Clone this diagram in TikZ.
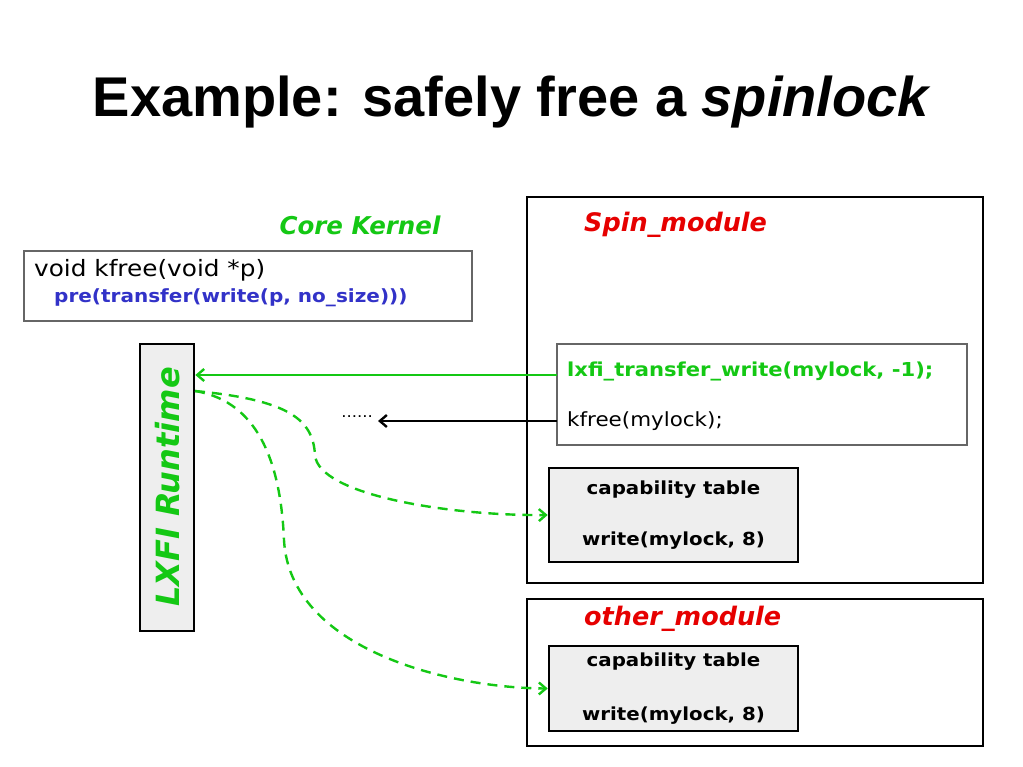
\documentclass[tikz,border=0pt]{standalone}
\usepackage{fontspec}
\setmainfont{Liberation Sans}
\newfontfamily\vfont{DejaVu Sans}
\newfontfamily\cfont[FakeStretch=1.1]{DejaVu Sans}
\usetikzlibrary{arrows.meta}
\definecolor{lgreen}{RGB}{20,200,20}
\definecolor{lred}{RGB}{230,0,0}
\definecolor{lblue}{RGB}{50,50,200}
\definecolor{lgray}{RGB}{238,238,238}
\tikzset{
  modbox/.style={draw=black, line width=2.8pt},
  codebox/.style={draw=black!60, line width=1.2pt, fill=white},
  captab/.style={draw=black, line width=2.6pt, fill=lgray},
  modlabel/.style={text=lred, font=\vfont\bfseries\itshape\fontsize{25.5}{30}\selectfont, anchor=west, inner sep=0pt},
  ctext/.style={font=\cfont\fontsize{19.5}{22}\selectfont, anchor=west, inner sep=0pt},
  cbold/.style={font=\cfont\bfseries\fontsize{18}{22}\selectfont, inner sep=0pt},
  garrow/.style={draw=lgreen, line width=2.4pt, -{Straight Barb[length=7pt,width=12pt]}},
  gdash/.style={draw=lgreen, line width=2.4pt, dash pattern=on 10pt off 7pt, -{Straight Barb[length=7pt,width=12pt]}},
  barrow/.style={draw=black, line width=2.4pt, -{Straight Barb[length=7pt,width=12pt]}}
}
\begin{document}
\begin{tikzpicture}[x=1pt,y=-1pt]
\useasboundingbox[fill=white] (0,0) rectangle (1023,767);
\node[font=\bfseries\fontsize{56}{64}\selectfont, inner sep=0pt] (title) at (512,102) {Example: safely free a \textit{spinlock}};
% core kernel
\node[text=lgreen, font=\vfont\bfseries\itshape\fontsize{24.5}{28}\selectfont, inner sep=0pt] (core) at (360,225) {Core Kernel};
\draw[codebox] (24,251) rectangle (472,321);
\node[ctext, font=\cfont\fontsize{22.5}{26}\selectfont] (kf1) at (34,270) {void kfree(void *p)};
\node[ctext, text=lblue, font=\cfont\bfseries\fontsize{18.2}{22}\selectfont] (kf2) at (54,298) {pre(transfer(write(p, no\_size)))};
% LXFI runtime
\node[draw=black, line width=2.6pt, fill=lgray, minimum width=54pt, minimum height=287pt, inner sep=0pt] (rt) at (167,487.5) {};
\node[rotate=90, text=lgreen, font=\vfont\bfseries\itshape\fontsize{32}{36}\selectfont, inner sep=0pt] (rtl) at (168,487) {LXFI Runtime};
% spin module
\draw[modbox] (527,197) rectangle (983,583);
\node[modlabel] (spinl) at (584,225) {Spin\_module};
\draw[codebox] (557,344) rectangle (967,445);
\node[ctext, text=lgreen, font=\cfont\bfseries\fontsize{19.2}{22}\selectfont] (xfer) at (567,371) {lxfi\_transfer\_write(mylock, -1);};
\node[ctext] (kfm) at (567,421) {kfree(mylock);};
\node[captab, minimum width=249pt, minimum height=94pt, inner sep=0pt] (cap1) at (673.5,515) {};
\node[cbold] (c1a) at (673.5,490) {capability table};
\node[cbold] (c1b) at (673.5,541) {write(mylock, 8)};
% other module
\draw[modbox] (527,599) rectangle (983,746);
\node[modlabel] (othl) at (584,619) {other\_module};
\node[captab, minimum width=249pt, minimum height=85pt, inner sep=0pt] (cap2) at (673.5,688.5) {};
\node[cbold] (c2a) at (673.5,662) {capability table};
\node[cbold] (c2b) at (673.5,716) {write(mylock, 8)};
% arrows
\coordinate (g0) at (557,375);
\coordinate (k0) at (557,421);
\coordinate (dots) at (378,421);
\node[font=\cfont\fontsize{15}{18}\selectfont, anchor=east, inner sep=0pt] (dd) at (373,417) {......};
\draw[garrow] (g0) -- (rt.east |- g0);
\draw[barrow] (k0) -- (dots);
\coordinate (s0) at (195,391);
\draw[gdash] (s0) .. controls (290,400) and (313,420) .. (315,455) .. controls (318,495) and (450,516) .. (cap1.west);
\draw[gdash] (s0) .. controls (262,402) and (281,470) .. (284,540) .. controls (290,650) and (450,688) .. (cap2.west);
\end{tikzpicture}
\end{document}
